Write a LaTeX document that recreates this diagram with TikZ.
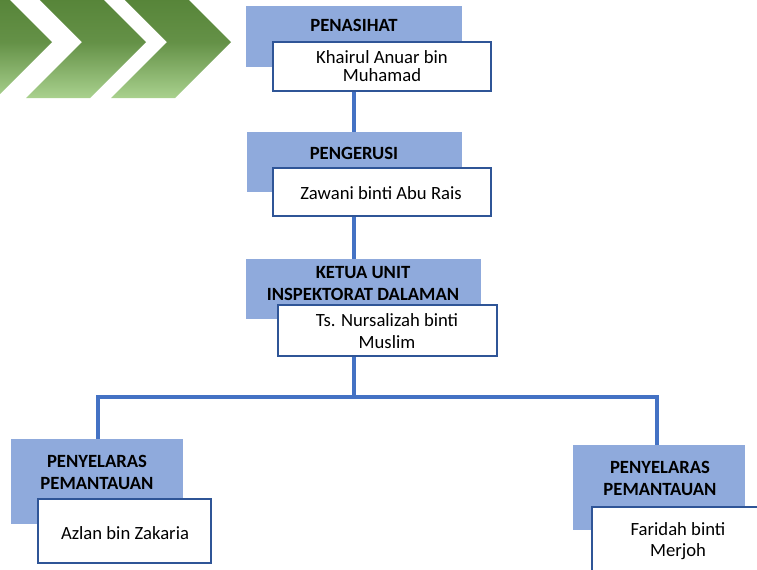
\documentclass[tikz,border=0pt]{standalone}
\usepackage{fontspec}
\setmainfont{Carlito}
\usetikzlibrary{fit}
\definecolor{boxblue}{HTML}{8FAADC}
\definecolor{edgeblue}{HTML}{2F5597}
\definecolor{linkblue}{HTML}{4472C4}
\definecolor{gdark}{HTML}{538135}
\definecolor{glight}{HTML}{A9D18E}
\tikzset{
  bbox/.style={fill=boxblue, draw=none, inner sep=0pt},
  wbox/.style={fill=white, draw=edgeblue, line width=1.6pt, inner sep=0pt},
  conn/.style={draw=linkblue, line width=2.4pt},
  headtxt/.style={font=\fontsize{14}{16.5}\selectfont\bfseries, align=center, inner sep=0pt},
  persontxt/.style={font=\fontsize{14}{16}\selectfont, align=center, inner sep=0pt},
  chev/.style={top color=gdark, bottom color=glight, middle color=gdark!80!glight, draw=none}
}
\begin{document}
\begin{tikzpicture}[x=0.75pt, y=-0.75pt]
\useasboundingbox (0,0) rectangle (757,569);
\clip (0,0) rectangle (757,569);
% chevrons
\shade[chev] (-60,-14) -- (-4,-14) -- (52,42) -- (-4,98) -- (-60,98) -- cycle;
\shade[chev] (26,-14) -- (90,-14) -- (146,42) -- (90,98) -- (26,98) -- (82,42) -- cycle;
\shade[chev] (111,-14) -- (175,-14) -- (231,42) -- (175,98) -- (111,98) -- (167,42) -- cycle;
% trunk coordinates
\coordinate (tr) at (354,0);
\coordinate (hl) at (98,397);
\coordinate (hm) at (354,397);
\coordinate (hr) at (657,397);
% boxes
\node[bbox, fit={(246,6) (462,67)}] (B1) {};
\node[wbox, fit={(273,42) (491,91)}] (W1) {};
\node[bbox, fit={(247,132) (462,192)}] (B2) {};
\node[wbox, fit={(273,168) (491,216)}] (W2) {};
\node[bbox, fit={(246,259) (481,319)}] (B3) {};
\node[wbox, fit={(278,305) (497,356)}] (W3) {};
\node[bbox, fit={(11,439) (183,524)}] (B4) {};
\node[wbox, fit={(38,499) (211,563)}] (W4) {};
\node[bbox, fit={(573,445) (745,530)}] (B5) {};
\node[wbox, fit={(592,507) (775,590)}] (W5) {};
% connectors
\draw[conn] (W1.south -| tr) -- (B2.north -| tr);
\draw[conn] (W2.south -| tr) -- (B3.north -| tr);
\draw[conn] (W3.south -| tr) -- (hm);
\draw[conn] (B4.north -| hl) -- (hl) -- (hr) -- (B5.north -| hr);
% texts
\node[headtxt] (t1) at (354,25) {PENASIHAT};
\node[persontxt, font=\fontsize{14}{13.5}\selectfont] (n1) at (382,66) {Khairul Anuar bin\\Muhamad};
\node[headtxt] (t2) at (354,153) {PENGERUSI};
\node[persontxt] (n2) at (381,193) {Zawani binti Abu Rais};
\node[headtxt] (t3) at (363,284) {KETUA UNIT\\INSPEKTORAT DALAMAN};
\node[persontxt] (n3) at (387,331) {Ts. Nursalizah binti\\Muslim};
\node[headtxt] (t4) at (97,472) {PENYELARAS\\PEMANTAUAN};
\node[persontxt] (n4) at (125,533) {Azlan bin Zakaria};
\node[headtxt] (t5) at (660,478) {PENYELARAS\\PEMANTAUAN};
\node[persontxt] (n5) at (678,541) {Faridah binti\\Merjoh};
\end{tikzpicture}
\end{document}
